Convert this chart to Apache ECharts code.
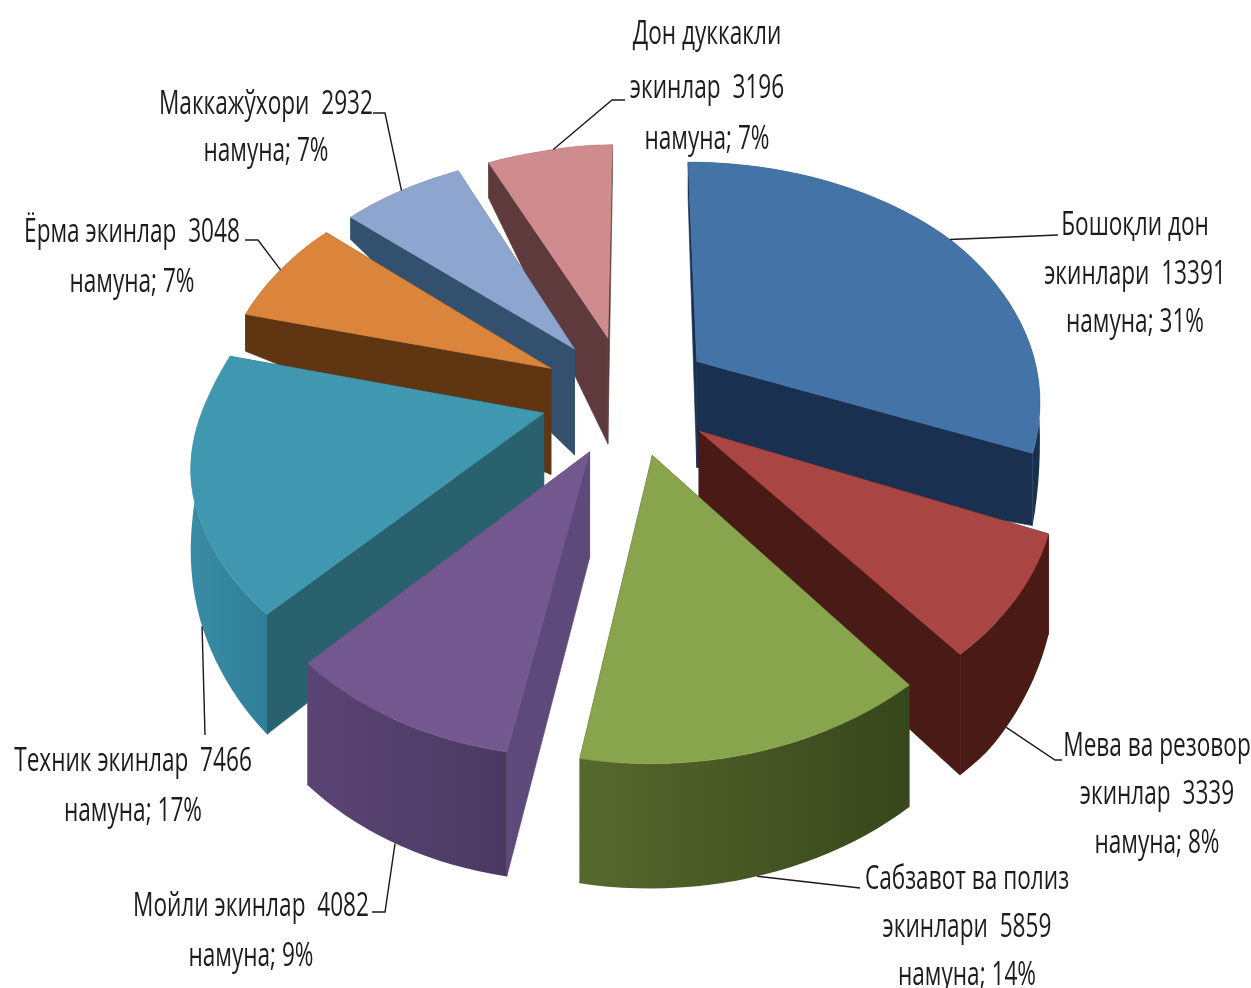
<!DOCTYPE html>
<html>
<head>
<meta charset="utf-8">
<style>html,body{margin:0;padding:0;background:#fff}#chart{width:1251px;height:988px}</style>
<script src="https://cdn.jsdelivr.net/npm/echarts@6/dist/echarts.min.js"></script>
</head>
<body>
<div id="chart"></div>
<script>
// Samples by crop group, clockwise from twelve o'clock.
var categories = ['Бошоқли дон', 'Мева ва резовор', 'Сабзавот ва полиз', 'Мойли экинлар', 'Техник экинлар', 'Ёрма экинлар', 'Маккажўхори', 'Дон дуккакли'];
var sampleCounts = [13391, 3339, 5859, 4082, 7466, 3048, 2932, 3196];
var labelPrefixes = [
  ['Бошоқли дон', 'экинлари  '], ['Мева ва резовор', 'экинлар  '], ['Сабзавот ва полиз', 'экинлари  '],
  ['Мойли экинлар  '], ['Техник экинлар  '], ['Ёрма экинлар  '], ['Маккажўхори  '], ['Дон дуккакли', 'экинлар  ']
];

// Face colours for each slice.
var topColors = ['#4473a8', '#a94543', '#88a54d', '#72588f', '#3f97b0', '#db843b', '#8ea6cf', '#cf8b8d'];
var rimColors = [['#1a3050', '#1a3050'], ['#4a1a17', '#4a1a17'], ['#56692d', '#37461c'], ['#5a4474', '#4b3962'], ['#3a8ba5', '#2f7f98'], ['#5f3512', '#5f3512'], ['#33506f', '#33506f'], ['#5e3a3d', '#5e3a3d']];
var startFaceColors = ['#1a3050', '#4a1a17', '#37461c', '#5e4a7a', '#29616f', '#5f3512', '#33506f', '#5e3a3d'];
var endFaceColors = ['#1a3050', '#4a1a17', '#37461c', '#5e4a7a', '#29616f', '#5f3512', '#33506f', '#5e3a3d'];

// Painter's order, far slices first.
var drawOrder = [7, 6, 5, 0, 4, 1, 3, 2];

// Oblique view of the pie plane, with small skews for its near and far parts.
var view = {
  cx: 627, cy: 395, radius: 345, squash: 0.705, perspective: 0.145, explode: 0.25, apexDepth: 106,
  nearShear: 11, nearRoll: 10, farLeftShift: 11, farDrop: 6
};
// Wall height against position on the plane (far to near).
var depthStops = [[1.25, 40], [0.83, 22], [0.35, 37], [0.05, 25], [-0.22, 72], [-0.5, 100], [-0.82, 120], [-1.25, 125]];

// Label placement: centre x, middle y per line, leader path after its rim anchor.
var labelCenters = [1135, 1157, 967, 251, 133, 132, 266, 707];
var labelLineYs = [[226, 275, 323], [747, 795, 844], [880, 928, 976], [907, 957], [762, 812], [233, 283], [105, 152], [35, 89, 140]];
var leaderWallShare = [0, 1, 1, 1, 1, 0, 0, 0];
var leaderAngleShift = [0, 3, 0, 0, -9, 0, 0, 0];
var leaderPaths = [
  [[1058, 235]], [[1055, 760], [1062, 760]], [[860, 888]], [[385, 912], [372, 912]],
  [[205, 735]], [[258, 240], [245, 240]], [[385, 113], [373, 113]], [[612, 100], [625, 100]]
];

var total = sampleCounts.reduce(function (a, b) { return a + b; }, 0);
var slices = [];
var running = 0;
sampleCounts.forEach(function (v) {
  var sweep = v / total * Math.PI * 2;
  slices.push({ start: running, end: running + sweep, mid: running + sweep / 2 });
  running += sweep;
});

function clamp01(v) { return Math.max(0, Math.min(1, v)); }
function smooth(v) { var t = clamp01(v); return t * t * (3 - 2 * t); }

function project(px, py, drop) {
  var d = 1 + view.perspective * py;
  var x = view.cx + view.radius * px / d;
  var y = view.cy - view.radius * view.squash * py / d + (drop || 0);
  if (py < 0) {
    x -= view.nearShear * Math.pow(-py, 3);
    y += view.nearRoll * px * -py;
  } else {
    y += view.farDrop * clamp01((py - 0.7) / 0.5);
  }
  if (px < 0) {
    var reach = clamp01((Math.sqrt(px * px + py * py) - 0.4) / 0.4);
    x += view.farLeftShift * reach * smooth((py + 0.45) / 0.65) * clamp01(-px / 0.3);
  }
  return [x, y];
}
function rimDepth(py) {
  var s = depthStops;
  if (py >= s[0][0]) return s[0][1];
  for (var i = 1; i < s.length; i++) {
    if (py >= s[i][0]) {
      var t = (py - s[i][0]) / (s[i - 1][0] - s[i][0]);
      return s[i][1] + (s[i - 1][1] - s[i][1]) * t;
    }
  }
  return s[s.length - 1][1];
}
function planePoint(slice, angle, r) {
  var ox = view.explode * Math.sin(slice.mid), oy = view.explode * Math.cos(slice.mid);
  return [ox + r * Math.sin(angle), oy + r * Math.cos(angle)];
}
function dropAt(p, r) {
  return view.apexDepth + (rimDepth(p[1]) - view.apexDepth) * r;
}
function poly(points, fill) {
  return { type: 'polygon', shape: { points: points }, style: { fill: fill, stroke: typeof fill === 'string' ? fill : null, lineWidth: 0.6 }, silent: true };
}

function renderSlice(params, api) {
  var i = api.value(1);
  var s = slices[i];
  var rimTop = [], rimBottom = [];
  var steps = Math.max(6, Math.ceil((s.end - s.start) / (Math.PI / 90)));
  for (var k = 0; k <= steps; k++) {
    var a = s.start + (s.end - s.start) * k / steps;
    var p = planePoint(s, a, 1);
    rimTop.push(project(p[0], p[1]));
    rimBottom.push(project(p[0], p[1], dropAt(p, 1)));
  }
  var ap = planePoint(s, 0, 0);
  var apexTop = project(ap[0], ap[1]);
  var apexBottom = project(ap[0], ap[1], view.apexDepth);
  var last = rimTop.length - 1;
  return {
    type: 'group',
    children: [
      poly([apexTop, rimTop[0], rimBottom[0], apexBottom], startFaceColors[i]),
      poly([apexTop, rimTop[last], rimBottom[last], apexBottom], endFaceColors[i]),
      poly(rimTop.concat(rimBottom.slice().reverse()), {
        type: 'linear', x: 0, y: 0, x2: 1, y2: 0,
        colorStops: [{ offset: 0, color: rimColors[i][0] }, { offset: 1, color: rimColors[i][1] }]
      }),
      poly([apexTop].concat(rimTop), topColors[i])
    ]
  };
}

function renderLabel(params, api) {
  var i = api.value(1);
  var s = slices[i];
  var p = planePoint(s, s.mid + leaderAngleShift[i] * Math.PI / 180, 1);
  var anchor = project(p[0], p[1], dropAt(p, 1) * leaderWallShare[i]);
  var children = [{
    type: 'polyline',
    shape: { points: [anchor].concat(leaderPaths[i]) },
    style: { stroke: '#1a1a1a', lineWidth: 1.4, fill: null },
    silent: true
  }];
  var pct = Math.round(sampleCounts[i] / total * 100);
  var lines = labelPrefixes[i].slice();
  lines[lines.length - 1] += sampleCounts[i];
  lines.push('намуна; ' + pct + '%');
  lines.forEach(function (line, n) {
    children.push({
      type: 'text', x: labelCenters[i], y: labelLineYs[i][n], scaleX: 0.78, scaleY: 1.12,
      style: { text: line, x: 0, y: 0, align: 'center', verticalAlign: 'middle', fill: '#1c1c1c', font: '29px "Open Sans", "Noto Sans", sans-serif' },
      silent: true
    });
  });
  return { type: 'group', children: children };
}

var orderedData = drawOrder.map(function (i) { return [sampleCounts[i], i, categories[i]]; });

var chart = echarts.init(document.getElementById('chart'), null, { renderer: 'canvas' });
chart.setOption({
  animation: false,
  backgroundColor: '#ffffff',
  series: [
    { type: 'custom', coordinateSystem: 'none', renderItem: renderSlice, data: orderedData, silent: true, z: 2 },
    { type: 'custom', coordinateSystem: 'none', renderItem: renderLabel, data: orderedData, silent: true, z: 3 }
  ]
});
</script>
</body>
</html>
